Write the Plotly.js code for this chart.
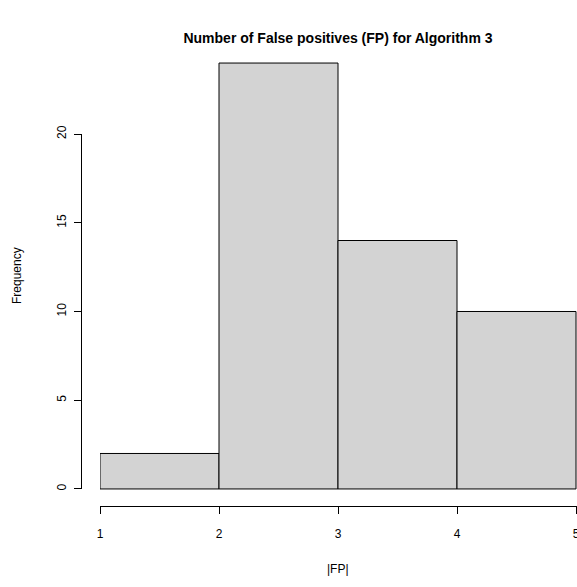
<!DOCTYPE html>
<html>
<head>
<meta charset="utf-8">
<script src="https://cdn.plot.ly/plotly-3.0.1.min.js"></script>
<style>html,body{margin:0;padding:0;background:#fff;}#chart{width:577px;height:587px;}</style>
</head>
<body>
<div id="chart"></div>
<script>
// Histogram data (bin edges and counts)
const binEdges = [1, 2, 3, 4, 5];
const counts = [2, 24, 14, 10];
const xTicks = [1, 2, 3, 4, 5];
const yTicks = [0, 5, 10, 15, 20];
const titleText = "Number of False positives (FP) for Algorithm 3";
const xLabel = "|FP|";
const yLabel = "Frequency";

const mids = counts.map((c, i) => (binEdges[i] + binEdges[i + 1]) / 2);
const widths = counts.map((c, i) => binEdges[i + 1] - binEdges[i]);

const font = {family: "Liberation Sans, Arial, sans-serif", size: 12, color: "#000"};

const traces = [
  {
    type: "bar", x: mids, y: counts, width: widths,
    xaxis: "x", yaxis: "y",
    marker: {color: "#d3d3d3", line: {color: "#000", width: 1}},
    hoverinfo: "skip", showlegend: false
  },
  {
    type: "scatter", mode: "markers", x: [binEdges[0]], y: [yTicks[0]],
    xaxis: "x", yaxis: "y2",
    marker: {opacity: 0}, hoverinfo: "skip", showlegend: false
  }
];

const plotLeft = 81, plotRight = 577, plotTop = 46, plotBottom = 506;
const W = 577, H = 587;
const pw = plotRight - plotLeft, ph = plotBottom - plotTop;
// x scale: 119 px per unit, value 1 at px 100
const xStart = 1;
const xEnd = xStart + (plotRight - 100) / 119;
const xDomLeft = (100 - plotLeft) / pw;
// y scale
const yLo = -0.96, yHi = 24.96;
const pxPerY = ph / (yHi - yLo);
const y2DomLo = (0 - yLo) * pxPerY / ph;
const y2DomHi = (20 - yLo) * pxPerY / ph;

const layout = {
  width: W, height: H,
  margin: {l: plotLeft, r: W - plotRight, t: plotTop, b: H - plotBottom, pad: 0},
  paper_bgcolor: "#fff", plot_bgcolor: "rgba(0,0,0,0)",
  font: font,
  bargap: 0,
  showlegend: false,
  title: {
    text: "<b>" + titleText + "</b>",
    font: {family: "Liberation Sans, Arial, sans-serif", size: 14, color: "#000"},
    x: 338 / W, xref: "container", xanchor: "center",
    y: 1 - 38 / H, yref: "container", yanchor: "middle"
  },
  xaxis: {
    domain: [xDomLeft, 1], range: [xStart, xEnd],
    anchor: "y", showgrid: false, zeroline: false,
    showline: true, linecolor: "#000", linewidth: 1,
    ticks: "outside", ticklen: 7, tickcolor: "#000", tickwidth: 1,
    tickmode: "array", tickvals: xTicks, ticktext: xTicks.map(String),
    tickfont: font, ticklabelstandoff: 10, ticklabeloverflow: "allow"
  },
  yaxis: {
    domain: [0, 1], range: [yLo, yHi],
    visible: false, showgrid: false, zeroline: false
  },
  yaxis2: {
    anchor: "free", position: 0, side: "left",
    domain: [y2DomLo, y2DomHi], range: [0, 20],
    showgrid: false, zeroline: false,
    showline: true, linecolor: "#000", linewidth: 1,
    ticks: "outside", ticklen: 7, tickcolor: "#000", tickwidth: 1,
    tickmode: "array", tickvals: yTicks, ticktext: yTicks.map(String),
    tickangle: -90, tickfont: font, ticklabelstandoff: 3
  },
  annotations: [
    {text: xLabel, xref: "paper", yref: "paper", x: (338 - plotLeft) / pw,
     y: -(569 - plotBottom) / ph, xanchor: "center", yanchor: "middle", showarrow: false, font: font},
    {text: yLabel, xref: "paper", yref: "paper", x: -(plotLeft - 17) / pw, y: 0.5,
     textangle: -90, xanchor: "center", yanchor: "middle", showarrow: false, font: font}
  ]
};

Plotly.newPlot("chart", traces, layout, {displayModeBar: false, staticPlot: true});
</script>
</body>
</html>
